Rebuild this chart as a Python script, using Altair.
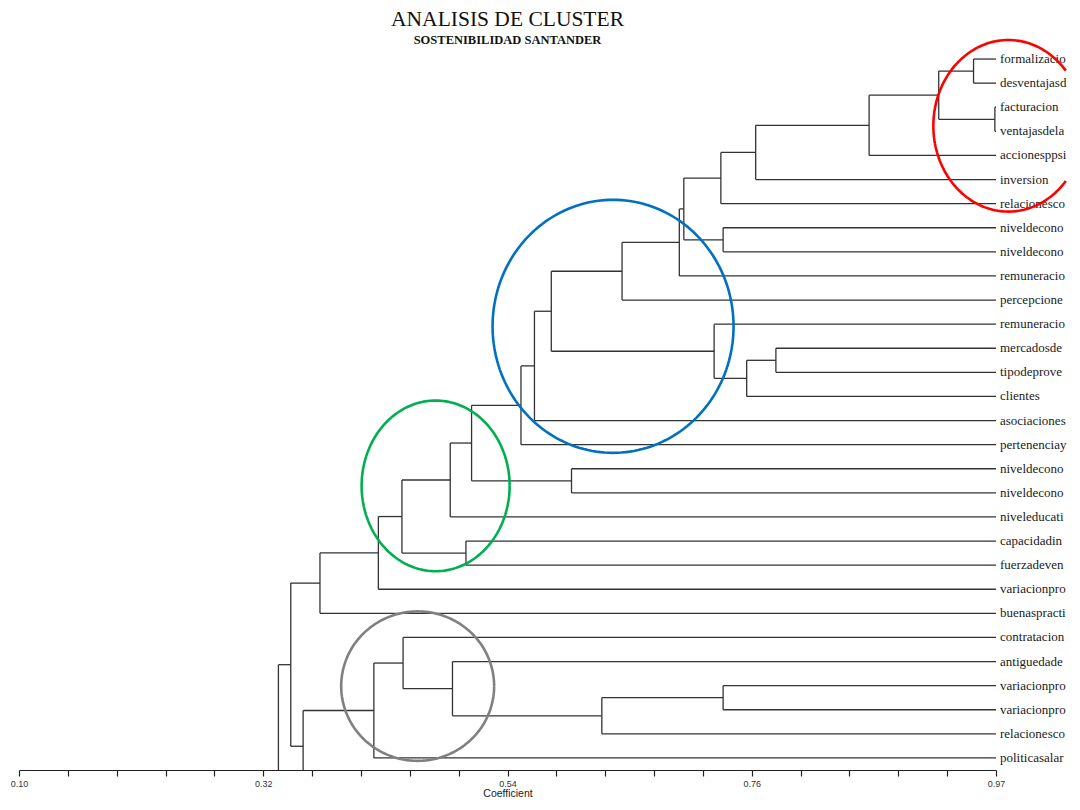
import math
import altair as alt
import pandas as pd

# ---------------- data ----------------
leaf_labels = [
    "formalizaciond", "desventajasdela", "facturacion", "ventajasdelainf",
    "accionesppsi", "inversion", "relacionescome", "niveldeconocim",
    "niveldeconocim", "remuneraciond", "percepcionexpo", "remuneracion",
    "mercadosdesusp", "tipodeproveedo", "clientes", "asociaciones",
    "pertenenciayco", "niveldeconocim", "niveldeconocim", "niveleducativo",
    "capacidadinver", "fuerzadeventas", "variacionprodu", "buenaspracticas",
    "contratacion", "antiguedadenla", "variacionprodu", "variacionprodu",
    "relacionescome", "politicasalaria",
]
# two branches continue below the axis (cut off in the original)
hidden_leaves = ["", ""]

# merges: children are leaves "L<n>" (order from top) or earlier merges "M<n>"
merge_left = ["L1", "L3", "M1", "M3", "M4", "M5", "L8", "M6", "M8", "M9",
              "L13", "M11", "L12", "M10", "M14", "M15", "L18", "M16", "M18", "L21",
              "M19", "M21", "M22", "L27", "M24", "L26", "L25", "M27", "M28", "M23",
              "M30"]
merge_right = ["L2", "L4", "M2", "L5", "L6", "L7", "L9", "M7", "L10", "L11",
               "L14", "L15", "M12", "M13", "L16", "L17", "L19", "M17", "L20", "L22",
               "M20", "L23", "L24", "L28", "L29", "M25", "M26", "L30", "L31", "M29",
               "L32"]
merge_height = [0.954, 0.973, 0.923, 0.861, 0.760, 0.729, 0.731, 0.696, 0.692, 0.641,
                0.778, 0.752, 0.723, 0.578, 0.563, 0.551, 0.596, 0.507, 0.488, 0.502,
                0.445, 0.424, 0.372, 0.731, 0.623, 0.490, 0.446, 0.420, 0.357, 0.346,
                0.335]

coef_min, coef_max = 0.104, 0.974
tick_values = [round(coef_min + k * (coef_max - coef_min) / 20, 5) for k in range(21)]

# highlight rings drawn over the dendrogram (centre / radii in data units)
ring_names = ["rojo", "azul", "verde", "gris"]
ring_colors = ["#FF0000", "#0070C0", "#00B050", "#808080"]
ring_cx = [0.985, 0.633, 0.475, 0.459]
ring_cy = [3.77, 12.09, 18.71, 27.02]
ring_rx = [0.0668, 0.1073, 0.0659, 0.0681]
ring_ry = [3.56, 5.25, 3.54, 3.10]
ring_clip_x = 1.037   # the red ring runs off the right edge of the page

# ---------------- build tables ----------------
all_leaves = leaf_labels + hidden_leaves
node_pos = {f"L{i+1}": i + 1 for i in range(len(all_leaves))}
node_h = {f"L{i+1}": coef_max for i in range(len(all_leaves))}
segs = []
for k, (a, b, h) in enumerate(zip(merge_left, merge_right, merge_height)):
    ya, yb = node_pos[a], node_pos[b]
    segs.append(dict(x=h, x2=h, y=ya, y2=yb))
    segs.append(dict(x=h, x2=node_h[a], y=ya, y2=ya))
    segs.append(dict(x=h, x2=node_h[b], y=yb, y2=yb))
    node_pos[f"M{k+1}"] = (ya + yb) / 2
    node_h[f"M{k+1}"] = h
seg_df = pd.DataFrame(segs)

lab_df = pd.DataFrame({"x": [coef_max] * len(leaf_labels),
                       "y": list(range(1, len(leaf_labels) + 1)),
                       "label": leaf_labels})

rows = []
for n, cx, cy, rx, ry in zip(ring_names, ring_cx, ring_cy, ring_rx, ring_ry):
    for i in range(181):
        t = 2 * math.pi * i / 180
        x = cx + rx * math.cos(t)
        if x <= ring_clip_x:
            rows.append(dict(ring=n, i=i, x=x, y=cy + ry * math.sin(t)))
ring_df = pd.DataFrame(rows)

# ---------------- chart ----------------
step = (coef_max - coef_min) / 4
label_expr = ("abs((datum.value - %g) / %g - round((datum.value - %g) / %g)) < 0.01"
              " ? format(datum.value, '.2f') : ''") % (coef_min, step, coef_min, step)

xscale = alt.Scale(domain=[coef_min, coef_max], nice=False, zero=False)
yscale = alt.Scale(domain=[0.5, 30.5], nice=False, zero=False, reverse=True)
xaxis = alt.Axis(values=tick_values, labelExpr=label_expr, tickSize=6, labelFlush=False,
                 tickColor="#222222", domainColor="#222222", tickWidth=1.2, domainWidth=1.2,
                 labelFont="Liberation Sans", labelFontSize=9, labelColor="#333333",
                 labelPadding=3, title="Coefficient", titleFont="Liberation Sans",
                 titleFontSize=10.5, titleFontWeight="normal", titleColor="#222222",
                 titlePadding=0, grid=False)

tree = alt.Chart(seg_df).mark_rule(clip=True, color="#333333", strokeWidth=1.3).encode(
    x=alt.X("x:Q", scale=xscale, axis=xaxis),
    x2="x2:Q",
    y=alt.Y("y:Q", scale=yscale, axis=None),
    y2="y2:Q",
)

labels = alt.Chart(lab_df).mark_text(
    align="left", baseline="middle", dx=4, font="Liberation Serif", fontSize=13,
    color="#1a1a1a", limit=67, ellipsis="\u200b",
).encode(
    x=alt.X("x:Q", scale=xscale, axis=xaxis),
    y=alt.Y("y:Q", scale=yscale, axis=None),
    text="label:N",
)

rings = alt.Chart(ring_df).mark_line(strokeWidth=2.6).encode(
    x=alt.X("x:Q", scale=xscale, axis=xaxis),
    y=alt.Y("y:Q", scale=yscale, axis=None),
    detail="ring:N",
    order="i:Q",
    color=alt.Color("ring:N", scale=alt.Scale(domain=ring_names, range=ring_colors), legend=None),
)

chart = alt.layer(tree, labels, rings).properties(
    width=977,
    height=723,
    padding={"left": 2, "top": 0, "right": 0, "bottom": 0},
    title=alt.TitleParams(
        text="ANALISIS DE CLUSTER",
        subtitle="SOSTENIBILIDAD SANTANDER",
        font="Liberation Serif", fontSize=21.5, fontWeight="normal", color="#111111",
        subtitleFont="Liberation Serif", subtitleFontSize=12.5, subtitleFontWeight="bold",
        subtitleColor="#111111", subtitlePadding=4,
        anchor="middle", frame="group", offset=-12,
    ),
).configure(background="white").configure_view(strokeWidth=0)

chart.save("out.html", embed_options={"renderer": "svg", "actions": False})
